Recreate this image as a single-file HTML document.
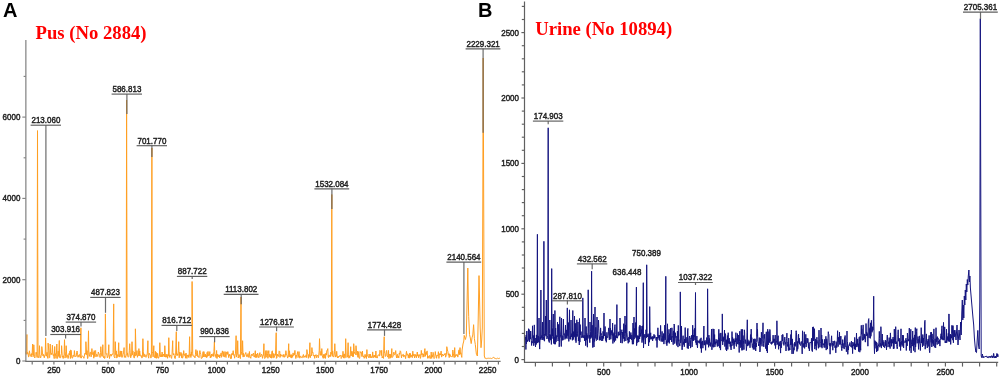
<!DOCTYPE html><html><head><meta charset="utf-8"><style>html,body{margin:0;padding:0;background:#fff;width:1000px;height:377px;overflow:hidden}svg{display:block;filter:blur(0.3px)}</style></head><body><svg width="1000" height="377" viewBox="0 0 1000 377"><rect width="1000" height="377" fill="#fff"/><polyline points="25.8,351.5 26.2,354.3 26.9,334.5 27.1,354.2 27.6,352.3 28.0,353.0 28.5,356.9 28.9,356.7 29.4,350.8 29.8,353.4 30.3,355.4 30.7,354.8 31.2,356.9 31.6,353.6 32.1,354.9 32.6,344.0 33.0,356.7 33.5,355.4 33.8,344.8 34.4,356.6 34.8,358.0 35.3,355.3 35.7,354.5 36.2,352.1 36.6,354.2 37.1,357.5 37.5,130.6 38.0,357.2 38.4,356.7 38.9,357.9 39.5,345.7 39.8,354.3 40.2,357.0 40.7,357.8 41.1,355.8 41.6,354.1 41.8,346.6 42.5,352.9 42.9,355.8 43.4,354.4 43.8,356.5 44.3,357.8 44.7,355.3 45.2,355.7 45.6,337.9 46.1,355.1 46.5,356.2 47.0,352.3 47.4,355.7 47.9,358.4 48.1,343.1 48.8,350.7 49.2,357.6 49.7,357.7 50.2,344.0 50.6,353.1 51.0,354.7 51.5,353.3 51.9,354.5 52.4,345.2 52.8,352.9 53.3,355.6 53.7,354.6 54.2,358.6 54.7,346.5 55.1,355.6 55.5,353.7 56.0,358.4 56.4,354.7 56.8,344.0 57.3,358.5 57.8,357.2 58.2,351.1 58.7,356.4 59.3,340.5 59.6,357.7 60.0,357.9 60.5,357.8 60.9,355.0 61.4,353.7 61.6,345.7 62.3,357.2 62.7,356.1 63.2,358.5 63.6,355.7 64.1,355.0 64.5,339.7 65.0,358.1 65.4,356.2 65.9,351.5 66.2,345.7 66.8,357.5 67.2,354.8 67.7,355.5 68.1,358.5 68.6,355.8 69.0,353.4 69.5,354.7 69.9,350.9 70.4,358.5 70.6,350.0 71.3,350.4 71.7,357.0 72.2,358.3 72.6,358.0 73.1,355.0 73.5,355.3 74.0,356.7 74.4,350.6 74.9,355.6 75.3,356.7 75.8,355.9 76.2,356.3 76.7,352.3 77.1,351.0 77.6,354.8 78.0,357.3 78.5,355.5 78.9,356.6 79.4,354.5 79.8,355.1 80.3,357.6 80.9,327.8 81.2,358.2 81.6,356.8 82.1,356.4 82.5,356.1 83.0,356.2 83.4,357.2 83.9,358.3 84.3,356.6 84.8,353.4 85.2,353.0 85.7,354.3 85.9,341.7 86.6,354.7 87.0,350.7 87.5,358.5 87.9,358.4 88.5,330.8 88.8,352.3 89.3,356.4 89.7,354.9 90.2,351.9 90.6,352.6 91.1,356.9 91.5,354.3 91.9,348.6 92.4,354.5 92.9,354.2 93.3,352.3 93.8,358.2 94.2,350.6 94.7,356.6 95.1,351.4 95.6,350.5 96.0,356.9 96.5,354.4 96.9,354.3 97.4,356.1 97.8,356.5 98.3,352.0 98.7,353.2 99.2,354.2 99.6,355.4 100.1,357.5 100.5,352.6 100.8,346.7 101.4,354.1 101.9,356.5 102.3,356.2 102.8,344.7 103.2,356.0 103.7,357.8 104.1,356.3 104.6,358.5 105.0,357.8 105.4,313.9 105.9,353.3 106.4,354.3 106.8,353.5 107.3,357.9 107.7,357.1 108.2,355.1 108.8,344.7 109.1,355.2 109.5,358.5 110.0,355.1 110.4,355.4 110.9,354.0 111.3,356.2 111.8,354.9 112.2,354.0 112.7,354.4 113.1,352.7 113.7,303.9 114.0,356.4 114.5,357.0 114.9,358.0 115.3,341.7 115.8,354.7 116.3,350.9 116.7,358.1 117.2,357.4 117.6,354.6 118.1,356.3 118.7,342.7 119.0,356.7 119.4,357.1 119.9,353.3 120.3,350.9 120.8,356.6 121.2,356.9 121.7,351.0 122.1,357.4 122.6,356.5 123.0,354.3 123.5,352.9 124.1,347.6 124.4,357.4 124.8,356.3 125.3,356.2 125.7,357.5 126.2,353.3 126.6,100.0 127.1,355.4 127.5,352.9 128.0,357.1 128.4,357.1 128.9,356.4 129.3,350.7 129.7,343.7 130.2,352.2 130.7,357.8 131.1,356.1 131.6,355.0 132.0,341.7 132.5,354.7 132.9,350.9 133.4,356.3 133.8,357.2 134.3,358.1 134.7,352.1 135.2,356.1 135.4,328.8 136.1,355.5 136.5,354.0 137.0,350.6 137.4,357.3 137.9,355.3 138.3,355.8 138.9,348.6 139.2,356.0 139.7,350.9 140.1,355.3 140.6,355.1 141.0,356.4 141.5,355.7 141.9,358.1 142.4,356.9 142.9,338.7 143.3,351.2 143.7,356.1 144.2,357.0 144.6,354.2 145.1,354.6 145.5,355.6 146.0,357.4 146.4,355.2 146.9,355.4 147.3,353.2 147.9,340.7 148.2,356.3 148.7,358.2 149.1,353.1 149.6,354.4 150.0,354.4 150.5,355.2 150.9,358.1 151.4,355.9 151.9,148.0 152.2,352.8 152.7,352.0 153.1,356.9 153.8,345.7 154.0,355.1 154.5,356.1 154.9,357.9 155.4,351.3 155.8,358.1 156.3,352.4 156.7,358.3 157.2,357.9 157.6,353.3 158.1,356.4 158.5,358.3 159.0,357.0 159.4,356.1 159.8,342.7 160.3,355.1 160.8,357.0 161.2,354.6 161.7,356.9 162.1,352.0 162.6,356.7 163.0,355.0 163.5,354.0 163.9,356.1 164.4,357.0 164.8,345.7 165.3,355.1 165.7,357.2 166.2,354.1 166.6,357.1 167.1,355.2 167.5,358.3 168.0,354.2 168.4,355.9 168.8,337.7 169.3,357.4 169.8,354.9 170.2,355.4 170.7,355.1 171.1,357.5 171.6,358.4 172.0,354.9 172.7,340.7 172.9,352.4 173.4,355.0 173.8,353.6 174.3,355.8 174.7,358.1 175.2,358.6 175.6,355.5 176.3,331.7 176.5,354.1 177.0,355.7 177.4,353.8 177.9,355.3 178.3,350.4 178.7,341.7 179.2,357.8 179.7,352.1 180.1,355.7 180.6,354.9 181.0,352.4 181.5,357.7 181.9,353.6 182.4,358.2 182.8,357.4 183.3,355.6 183.7,350.6 184.2,355.2 184.6,355.5 185.1,354.0 185.5,358.2 186.0,353.0 186.4,356.2 186.9,358.4 187.3,355.2 187.8,356.3 188.2,354.8 188.7,357.4 189.1,357.6 189.6,336.7 190.0,355.7 190.5,354.4 190.9,357.5 191.4,351.9 191.8,355.5 192.1,281.5 192.7,353.5 193.2,356.3 193.6,356.1 194.1,355.9 194.5,357.1 195.0,357.9 195.4,354.6 195.9,349.6 196.3,355.7 196.8,354.9 197.2,350.7 197.7,356.7 198.1,355.8 198.6,356.3 199.0,357.7 199.5,352.1 199.9,350.6 200.4,352.8 200.8,354.5 201.3,358.5 201.7,358.3 202.2,358.0 202.6,355.2 203.1,351.7 203.5,356.9 203.9,351.6 204.4,355.2 204.9,357.0 205.3,354.1 205.8,357.1 206.2,355.4 206.7,357.7 207.1,352.4 207.6,356.5 208.0,351.4 208.5,355.9 208.9,355.4 209.4,355.4 209.8,351.6 210.3,358.0 210.7,355.7 211.2,357.3 211.6,354.0 212.1,355.9 212.5,355.9 213.0,353.7 213.4,356.5 213.9,351.6 214.4,341.7 214.8,354.7 215.2,356.4 215.7,354.5 216.1,357.7 216.6,350.5 217.0,358.5 217.5,354.2 217.9,355.8 218.4,356.9 218.8,354.7 219.3,355.0 219.7,357.9 220.2,354.8 220.6,355.8 221.1,352.9 221.5,357.3 222.0,354.2 222.4,350.9 222.9,354.5 223.3,356.5 223.8,351.6 224.2,356.7 224.7,357.0 225.1,351.6 225.6,356.3 226.0,357.5 226.5,352.1 226.9,352.3 227.4,354.4 227.8,351.6 228.3,354.4 228.7,357.6 229.2,354.2 229.6,355.7 230.1,354.6 230.5,358.6 231.0,357.7 231.4,358.5 231.7,353.6 232.3,354.8 232.8,352.6 233.2,350.7 233.7,355.3 234.1,354.7 234.6,358.2 235.0,355.2 235.5,353.2 236.1,335.7 236.4,357.1 236.8,354.8 237.3,354.5 237.7,340.7 238.2,358.0 238.6,356.7 239.1,354.5 239.5,356.9 240.0,357.7 240.4,358.6 241.0,297.0 241.3,351.2 241.8,354.2 242.2,355.2 242.6,340.7 243.1,357.1 243.6,353.3 244.0,356.8 244.5,356.4 244.9,354.6 245.4,353.8 245.8,352.5 246.3,355.0 246.7,356.7 247.2,356.9 247.6,354.6 248.1,353.5 248.5,356.9 249.0,357.6 249.4,351.5 249.9,356.6 250.3,357.0 250.8,358.3 251.2,355.1 251.7,354.2 252.1,355.9 252.6,354.3 253.0,354.1 253.5,353.1 253.9,356.8 254.4,357.0 254.8,354.8 255.3,350.7 255.7,357.6 256.2,354.0 256.6,357.4 257.1,357.4 257.5,353.0 258.0,354.2 258.4,357.4 258.9,357.9 259.3,355.2 259.9,352.6 260.2,356.4 260.7,357.0 261.1,355.0 261.6,354.1 262.0,355.1 262.5,358.3 262.9,355.5 263.4,355.5 263.9,343.7 264.3,357.2 264.7,358.5 265.2,357.9 265.8,350.6 266.1,357.3 266.5,355.4 267.0,350.6 267.4,353.4 267.9,358.3 268.3,353.7 268.8,350.6 269.2,357.2 269.7,354.3 270.1,355.7 270.6,357.8 271.0,354.3 271.5,358.2 271.8,351.6 272.4,350.8 272.8,357.7 273.3,357.8 273.7,353.5 274.2,357.5 274.6,355.5 275.1,354.1 275.5,355.3 276.2,332.7 276.4,358.4 276.9,357.9 277.3,354.1 277.8,356.0 278.2,355.6 278.7,356.5 279.1,350.9 279.8,351.6 280.0,357.5 280.5,354.0 280.9,356.3 281.4,354.8 281.8,355.6 282.3,355.2 282.7,355.3 283.2,357.2 283.6,354.5 284.1,354.4 284.5,357.2 285.0,356.9 285.4,355.8 285.9,350.7 286.3,354.1 286.8,355.2 287.2,356.3 287.7,358.1 288.1,356.1 288.7,343.7 289.0,357.0 289.5,350.8 289.9,357.0 290.4,354.8 290.8,357.6 291.3,354.6 291.7,358.1 292.2,354.9 292.6,357.2 293.1,352.9 293.5,355.5 294.0,354.7 294.4,354.9 294.9,350.4 295.3,354.5 295.8,358.5 296.2,357.4 296.7,354.9 297.1,354.5 297.7,351.6 298.0,357.6 298.5,356.3 299.0,351.6 299.4,355.9 299.8,358.2 300.3,356.6 300.7,355.9 301.2,357.3 301.6,357.6 302.1,357.9 302.5,357.0 303.0,355.4 303.4,354.5 303.9,357.6 304.3,356.9 304.8,355.9 305.2,356.9 305.7,357.1 306.1,354.8 306.6,357.6 306.9,349.6 307.5,354.2 307.9,354.7 308.4,358.3 308.8,354.5 309.3,356.5 309.9,342.7 310.2,357.8 310.6,355.9 311.1,355.0 311.5,355.8 311.9,347.6 312.4,352.8 312.9,352.3 313.3,355.9 313.8,355.6 314.2,355.0 314.7,358.3 315.1,355.0 315.6,355.8 316.0,354.6 316.5,357.7 316.9,356.2 317.4,355.0 317.8,355.6 318.3,357.8 318.7,356.2 319.2,350.9 319.5,338.7 320.1,355.2 320.5,355.2 321.0,351.3 321.4,355.3 321.8,348.6 322.3,356.0 322.8,357.0 323.2,358.3 323.7,354.3 324.1,358.2 324.6,354.6 325.0,353.8 325.5,358.4 325.9,353.3 326.4,355.1 326.8,350.6 327.3,350.7 327.8,348.6 328.2,357.1 328.6,357.6 329.1,354.9 329.5,356.4 330.0,356.0 330.4,356.6 330.9,352.1 331.3,354.3 331.8,194.5 332.2,356.3 332.7,350.9 333.1,356.2 333.6,357.1 334.0,355.7 334.5,351.6 334.8,343.7 335.4,357.1 335.8,355.5 336.3,356.3 336.7,351.3 337.2,356.9 337.6,358.0 338.1,356.2 338.5,357.5 339.0,356.0 339.4,356.5 339.9,355.3 340.3,355.9 340.8,355.2 341.2,358.5 341.7,357.6 342.1,355.5 342.6,356.7 343.0,351.3 343.5,358.1 343.9,354.2 344.4,354.0 344.8,358.2 345.3,357.0 345.7,338.7 346.2,356.8 346.6,357.2 347.1,357.1 347.5,357.1 348.1,342.7 348.4,354.2 348.9,358.2 349.3,355.7 349.8,357.6 350.2,355.2 350.7,346.7 351.1,356.0 351.6,351.8 352.0,351.0 352.5,356.6 352.9,352.4 353.4,356.7 353.7,343.7 354.3,351.5 354.7,353.7 355.2,354.0 355.6,354.6 356.0,345.7 356.5,351.3 357.0,355.1 357.4,351.1 357.9,357.3 358.3,351.6 358.8,357.3 359.2,358.3 359.7,358.4 360.1,351.5 360.6,352.7 361.0,352.6 361.5,352.5 361.9,356.6 362.4,351.0 362.8,355.7 363.3,356.9 363.7,355.8 364.2,358.3 364.6,356.6 365.1,354.3 365.5,357.2 366.0,355.5 366.4,358.5 366.9,349.6 367.3,356.0 367.8,355.7 368.2,356.8 368.7,357.7 369.1,354.0 369.6,355.9 370.0,357.8 370.5,354.2 370.9,357.7 371.4,356.6 371.8,357.9 372.3,357.1 372.7,351.9 373.2,357.7 373.6,357.5 374.1,355.1 374.5,357.1 375.0,355.0 375.4,357.5 375.9,351.0 376.3,357.6 376.8,356.7 377.2,358.1 377.7,356.2 378.1,354.9 378.6,354.8 379.0,355.7 379.5,355.9 379.9,350.3 380.4,351.6 380.8,351.7 381.3,355.6 381.7,350.3 382.2,358.0 382.6,356.6 383.1,357.6 383.5,358.4 384.2,336.7 384.4,353.1 384.9,353.6 385.3,356.6 385.8,356.1 386.2,351.7 386.7,350.4 387.1,355.2 387.6,356.9 388.0,357.1 388.5,350.4 388.9,358.6 389.4,354.2 389.8,355.6 390.3,358.2 390.7,354.2 391.2,357.3 391.8,348.6 392.1,357.5 392.5,357.1 393.0,356.7 393.4,354.5 393.9,352.1 394.3,354.8 394.8,354.7 395.2,354.1 395.7,350.6 396.1,355.0 396.6,358.0 397.0,354.6 397.5,354.4 397.9,357.9 398.4,356.1 398.8,357.8 399.3,353.0 399.7,354.3 400.2,350.8 400.7,351.6 401.1,354.7 401.5,357.9 402.0,354.8 402.4,355.5 402.9,354.5 403.3,354.3 403.8,357.1 404.2,356.2 404.7,355.2 405.1,355.7 405.6,358.6 406.0,354.4 406.5,351.3 406.9,355.4 407.4,354.1 407.8,353.8 408.3,357.8 408.7,354.9 409.2,358.2 409.6,353.2 410.1,357.5 410.5,353.5 411.0,356.8 411.4,355.3 411.9,356.8 412.3,357.7 412.8,351.2 413.2,355.9 413.7,354.3 414.1,355.5 414.6,358.0 415.0,354.1 415.5,356.2 415.9,355.2 416.4,357.8 416.8,354.8 417.3,352.0 417.7,356.1 418.2,354.6 418.6,357.8 419.1,355.5 419.5,355.8 420.0,354.3 420.4,358.4 420.9,356.4 421.3,350.4 421.8,355.0 422.2,354.5 422.7,353.5 423.1,357.2 423.6,354.1 424.0,356.7 424.5,350.8 424.9,348.6 425.4,356.3 425.8,352.4 426.3,354.6 426.7,351.8 427.2,350.9 427.6,358.3 428.1,355.9 428.5,356.4 429.0,358.3 429.4,355.6 429.9,355.5 430.3,358.5 430.8,358.2 431.2,352.0 431.7,358.4 432.1,355.1 432.6,356.9 433.0,352.3 433.5,353.3 433.9,358.5 434.4,358.3 434.8,357.7 435.3,351.6 435.7,355.2 436.2,355.3 436.6,358.3 437.1,355.2 437.5,356.0 438.0,355.3 438.4,351.7 438.9,358.4 439.3,355.2 439.8,353.4 440.2,353.8 440.7,355.1 441.1,351.1 441.6,357.1 442.0,355.8 442.5,354.1 442.9,355.3 443.4,356.0 443.8,354.6 444.3,354.2 444.7,355.0 445.2,353.3 445.6,357.2 446.1,355.8 446.5,354.5 446.8,346.7 447.4,350.0 447.9,351.6 448.3,355.2 448.8,353.7 449.2,357.6 449.7,353.9 450.1,354.8 450.6,356.0 451.0,357.0 451.5,356.6 451.9,356.7 452.4,356.8 452.8,350.0 453.3,353.2 453.7,355.9 454.2,357.6 454.7,347.6 455.1,357.2 455.5,354.9 456.0,355.3 456.4,354.5 456.9,355.8 457.3,354.7 457.8,357.1 458.2,355.2 458.7,351.0 459.1,349.8 459.6,354.7 460.0,347.6 460.5,354.1 460.9,352.8 461.4,355.8 461.8,357.4 462.1,350.0 463.0,344.0 463.8,341.0 464.2,335.4 465.4,339.5 466.3,336.0 467.1,300.0 467.8,268.0 468.3,300.0 468.7,316.4 469.5,334.5 470.3,338.0 471.2,343.6 472.0,337.8 472.8,335.0 473.6,324.7 474.4,338.7 475.3,344.4 476.4,354.3 477.4,356.0 478.2,320.0 479.0,275.6 479.6,300.0 480.2,328.0 481.0,347.7 481.7,340.0 482.3,328.0 482.8,200.0 483.2,58.0 483.7,200.0 484.3,356.0 485.1,358.5 485.6,358.3 486.2,358.8 486.8,358.3 487.4,358.3 488.0,358.5 488.6,358.2 489.2,358.2 489.8,358.4 490.4,358.2 491.0,358.7 491.6,358.5 492.2,358.3 492.8,357.9 493.4,357.3 494.0,357.3 494.6,358.4 495.2,358.4 495.8,358.7 496.4,358.8 497.0,358.3 497.6,358.2 498.2,358.4 498.8,358.8 499.4,358.1 500.0,358.3" fill="none" stroke="#FF9F22" stroke-width="1" stroke-linejoin="miter" stroke-miterlimit="20"/><polyline points="525.3,339.9 525.6,336.9 525.9,349.5 526.2,335.0 526.5,344.0 526.8,331.0 527.1,340.7 527.4,341.6 527.7,339.9 528.0,341.2 528.3,331.7 528.6,328.7 528.9,339.8 529.2,329.6 529.5,341.8 529.8,334.8 530.1,334.2 530.4,339.1 530.7,331.0 531.0,336.4 531.3,340.6 531.6,345.5 531.9,341.2 532.2,343.1 532.5,325.8 532.8,337.7 533.1,338.2 533.4,335.5 533.7,345.7 534.0,343.8 534.3,324.9 534.6,340.2 534.9,343.0 535.2,338.0 535.5,347.0 535.8,341.4 536.1,344.6 536.4,334.9 536.7,343.3 537.0,337.9 537.4,234.3 537.6,342.9 537.9,342.1 538.2,335.9 538.5,340.7 538.8,342.2 539.0,318.0 539.4,343.7 539.7,349.1 540.0,339.8 540.3,337.1 540.6,339.5 540.9,290.0 541.2,338.2 541.5,336.5 541.8,335.4 542.1,339.9 542.5,322.0 542.7,338.9 543.0,340.0 543.3,339.5 543.6,336.3 543.9,241.3 544.2,341.1 544.5,341.1 544.8,334.0 545.1,335.0 545.5,316.0 545.7,334.1 546.0,336.2 546.3,300.0 546.6,332.9 546.9,339.0 547.2,338.2 547.5,336.0 547.8,335.4 548.2,127.8 548.4,337.0 548.7,341.2 549.0,341.3 549.3,342.5 549.6,333.4 549.8,320.0 550.2,339.3 550.5,334.7 550.8,340.2 551.1,337.1 551.4,344.4 551.7,268.6 552.0,338.7 552.3,328.7 552.6,335.9 552.9,327.5 553.3,314.0 553.5,340.1 553.8,343.6 554.1,336.9 554.4,341.1 554.7,344.2 554.9,310.5 555.3,344.2 555.6,328.0 555.9,342.2 556.2,341.3 556.5,337.0 556.8,335.4 557.1,336.9 557.5,322.0 557.7,329.2 558.0,341.0 558.3,339.6 558.6,324.4 558.9,332.9 559.2,346.8 559.5,342.7 559.8,316.8 560.1,329.0 560.4,334.1 560.7,337.0 561.0,338.3 561.3,346.5 561.5,318.0 561.9,337.2 562.2,339.8 562.5,340.3 562.8,335.6 563.1,340.1 563.4,319.0 563.7,330.9 564.0,335.1 564.3,333.6 564.6,334.5 564.9,339.4 565.2,339.1 565.5,325.0 565.8,338.1 566.1,335.2 566.4,337.6 566.7,329.9 567.0,338.7 567.3,307.9 567.6,335.4 567.9,335.3 568.2,336.3 568.5,322.6 568.8,341.4 569.1,330.8 569.5,309.8 569.7,323.8 570.0,339.1 570.3,336.3 570.6,339.3 571.0,320.0 571.2,336.0 571.5,336.8 571.8,333.6 572.1,335.4 572.4,340.3 572.8,310.5 573.0,334.5 573.3,339.5 573.6,331.6 573.9,332.5 574.2,337.2 574.5,316.0 574.8,336.2 575.1,329.7 575.4,340.5 575.7,323.3 576.0,342.7 576.3,337.9 576.6,333.1 576.8,319.8 577.2,336.6 577.5,333.4 577.8,330.9 578.0,322.0 578.4,340.9 578.7,337.5 579.0,338.5 579.3,345.0 579.5,318.5 579.9,342.1 580.2,324.6 580.5,334.5 580.8,335.0 581.1,331.6 581.4,337.7 581.7,337.7 582.0,336.4 582.3,335.5 582.6,337.5 582.8,297.9 583.2,335.1 583.5,335.5 583.8,338.1 584.1,335.2 584.4,336.4 584.7,340.9 585.0,318.0 585.3,334.4 585.6,345.6 585.9,335.7 586.2,326.5 586.5,340.1 586.8,333.4 587.1,345.0 587.4,347.2 587.7,335.2 588.0,338.5 588.2,289.8 588.6,328.1 588.9,336.5 589.2,337.5 589.5,335.2 589.8,342.7 590.0,322.0 590.4,331.7 590.7,338.6 591.0,335.3 591.3,337.5 591.6,271.2 591.9,336.3 592.2,325.2 592.5,340.9 592.8,347.6 593.1,335.7 593.5,314.0 593.7,343.1 594.0,347.0 594.3,338.9 594.6,341.4 595.0,307.0 595.2,338.4 595.5,334.4 595.8,327.3 596.1,339.6 596.4,340.6 596.7,339.4 597.0,317.0 597.3,333.6 597.6,339.7 597.9,330.9 598.2,327.4 598.5,320.0 598.8,328.6 599.1,334.3 599.4,340.3 599.7,336.7 600.0,337.3 600.3,340.2 600.6,327.9 600.9,334.6 601.2,333.4 601.5,335.7 601.8,341.0 602.1,337.1 602.4,336.0 602.7,340.7 603.0,331.4 603.3,334.1 603.6,338.5 604.0,313.0 604.2,334.0 604.5,335.9 604.8,331.7 605.1,326.5 605.4,335.0 605.7,340.6 606.0,335.9 606.3,342.3 606.6,339.8 606.9,332.3 607.2,337.5 607.5,337.0 607.8,337.5 608.1,335.6 608.4,331.6 608.7,327.9 609.0,334.0 609.3,339.9 609.6,336.1 610.0,319.0 610.2,335.4 610.5,328.1 610.8,339.3 611.1,335.7 611.4,333.9 611.7,330.4 612.0,331.9 612.3,335.5 612.6,323.0 612.9,343.5 613.2,334.1 613.5,340.4 613.8,332.7 614.1,333.6 614.4,342.2 614.7,326.3 615.0,324.6 615.3,334.4 615.6,340.5 615.9,336.0 616.2,336.8 616.5,337.9 616.9,304.6 617.1,335.9 617.4,338.2 617.7,336.9 618.0,335.1 618.3,331.8 618.6,335.5 618.9,334.0 619.2,334.7 619.5,335.2 619.8,330.5 620.0,318.0 620.4,328.8 620.7,342.9 621.0,335.5 621.3,333.2 621.6,331.4 621.9,329.7 622.2,343.2 622.5,332.1 622.8,336.9 623.1,335.5 623.4,338.6 623.7,323.7 624.0,335.9 624.3,341.4 624.6,336.5 625.0,316.0 625.2,333.0 625.5,324.9 625.8,340.9 626.1,337.9 626.4,336.0 626.8,282.7 627.0,332.6 627.3,337.1 627.6,340.1 627.9,339.0 628.2,343.3 628.5,339.8 628.8,337.1 629.1,342.2 629.4,331.4 629.7,338.6 630.0,334.4 630.3,339.0 630.6,335.8 630.9,332.5 631.2,338.7 631.5,339.9 631.8,334.9 632.1,340.4 632.4,344.2 632.7,339.1 633.0,323.0 633.3,344.2 633.6,342.4 634.0,317.0 634.2,339.2 634.5,328.5 634.8,330.2 635.1,337.0 635.4,336.4 635.7,322.5 636.0,338.2 636.4,287.1 636.6,345.6 636.9,340.0 637.2,342.7 637.5,335.6 637.8,337.5 638.1,340.6 638.4,335.8 638.7,342.1 639.0,333.4 639.3,326.5 639.6,339.0 639.9,325.1 640.2,336.4 640.5,333.0 640.8,336.3 641.0,326.0 641.4,333.4 641.7,329.7 642.0,342.6 642.3,335.9 642.6,325.8 642.9,340.3 643.3,282.7 643.5,348.0 643.8,340.3 644.1,338.8 644.4,337.1 644.7,334.9 645.0,334.0 645.3,344.1 645.6,337.9 645.9,329.8 646.2,331.1 646.5,337.7 646.7,264.8 647.1,332.7 647.4,337.0 647.7,334.6 648.0,334.5 648.3,337.2 648.6,345.9 648.9,333.7 649.2,337.4 649.5,342.2 649.7,306.6 650.1,339.1 650.4,335.4 650.7,332.8 651.0,339.4 651.3,338.8 651.6,337.2 651.9,338.9 652.2,336.3 652.5,340.9 652.8,340.3 653.1,336.6 653.4,338.6 653.7,336.7 654.0,334.3 654.3,338.3 654.6,336.0 654.9,335.4 655.2,337.8 655.5,337.7 655.8,338.7 656.1,340.5 656.4,339.1 656.7,337.0 657.0,347.5 657.3,339.9 657.6,336.3 657.9,327.8 658.2,335.9 658.5,337.6 658.8,335.3 659.1,339.7 659.4,335.1 659.7,340.6 660.0,337.3 660.3,334.5 660.6,325.4 660.9,335.1 661.2,341.6 661.5,338.5 661.8,337.6 662.1,331.4 662.4,340.2 662.7,341.7 663.0,335.9 663.3,341.1 663.6,333.5 663.9,344.1 664.2,340.0 664.5,338.8 664.8,325.1 665.1,339.9 665.4,339.6 665.8,276.3 666.0,340.6 666.3,344.1 666.6,340.6 666.9,345.7 667.2,338.6 667.5,323.8 667.8,342.7 668.1,338.5 668.4,342.0 668.7,334.5 669.0,329.3 669.3,343.4 669.6,333.7 669.9,339.2 670.2,340.0 670.6,328.0 670.8,339.8 671.1,339.7 671.4,336.4 671.7,342.0 671.9,327.8 672.3,335.8 672.6,337.6 672.9,337.4 673.2,344.7 673.5,330.9 673.8,341.5 674.1,324.0 674.4,325.1 674.7,343.6 675.0,341.2 675.3,332.7 675.6,336.5 675.9,337.6 676.2,336.2 676.5,344.2 676.8,345.5 677.1,341.1 677.4,331.1 677.7,338.7 678.0,347.1 678.3,325.4 678.6,341.2 678.9,339.7 679.2,344.2 679.5,343.9 679.8,346.1 680.1,343.1 680.3,291.9 680.7,342.9 681.0,340.0 681.3,337.6 681.5,326.0 681.9,349.4 682.2,349.9 682.5,347.3 682.8,339.1 683.1,335.7 683.4,344.5 683.7,343.0 684.0,341.8 684.3,346.7 684.6,339.0 684.9,340.9 685.2,327.6 685.5,342.8 685.8,338.7 686.1,342.7 686.4,340.5 686.7,339.4 687.0,337.1 687.3,348.2 687.5,331.0 687.9,328.4 688.2,348.8 688.5,342.9 688.8,343.2 689.1,338.4 689.4,337.6 689.7,336.0 690.0,346.0 690.3,340.6 690.6,348.1 690.9,337.8 691.2,339.2 691.5,335.3 691.8,338.7 692.1,346.9 692.4,341.2 692.7,325.2 693.0,339.6 693.3,341.0 693.6,335.0 693.9,339.8 694.2,329.6 694.5,336.6 694.8,328.2 695.1,340.3 695.5,292.5 695.7,342.5 696.0,340.9 696.3,344.9 696.6,341.2 696.9,336.1 697.2,345.7 697.5,347.9 697.8,340.5 698.1,342.3 698.4,341.4 698.7,342.0 699.0,342.8 699.3,340.6 699.6,343.3 699.9,341.1 700.2,338.8 700.5,348.3 700.8,339.5 701.1,337.8 701.4,352.6 701.7,341.7 702.0,344.8 702.3,342.9 702.6,341.0 702.9,348.2 703.2,339.5 703.5,339.6 703.9,326.0 704.1,345.2 704.4,340.7 704.7,344.8 705.0,342.4 705.3,342.9 705.6,350.3 705.9,340.3 706.2,343.7 706.5,340.6 706.8,337.5 707.1,344.6 707.4,337.5 707.6,288.8 708.0,343.9 708.3,340.3 708.6,347.3 708.9,335.1 709.2,343.1 709.5,338.5 709.8,345.5 710.1,343.8 710.4,346.5 710.7,342.6 711.0,344.6 711.3,337.8 711.5,329.0 711.9,349.8 712.2,344.8 712.5,346.5 712.8,342.1 713.0,328.8 713.4,337.9 713.7,347.3 713.9,329.0 714.3,344.1 714.6,334.6 714.9,346.9 715.2,341.6 715.5,341.9 715.8,344.4 716.1,339.3 716.4,342.7 716.7,342.2 717.0,341.7 717.3,346.5 717.6,342.1 717.9,339.7 718.2,346.2 718.5,339.4 718.8,329.3 719.1,341.0 719.4,338.6 719.7,347.8 720.0,333.4 720.3,349.1 720.6,350.1 720.9,332.9 721.2,340.4 721.5,341.1 721.8,340.6 722.1,339.2 722.3,313.9 722.7,344.9 723.0,337.6 723.3,341.5 723.6,337.4 723.9,336.7 724.2,339.8 724.5,330.0 724.8,346.5 725.1,342.8 725.4,333.6 725.7,335.6 726.0,349.7 726.3,339.7 726.6,351.0 726.9,341.3 727.2,343.7 727.5,335.6 727.8,349.4 728.2,332.7 728.4,340.7 728.7,343.6 729.0,339.7 729.3,338.2 729.6,343.9 729.9,342.4 730.2,346.6 730.5,341.7 730.8,348.2 731.1,349.9 731.4,344.8 731.7,345.8 732.0,331.6 732.3,343.1 732.6,337.3 732.9,345.5 733.2,345.1 733.5,339.1 733.8,338.7 734.1,348.8 734.4,340.7 734.7,344.2 735.0,339.7 735.3,338.5 735.6,342.1 735.9,332.7 736.2,345.6 736.5,346.4 736.8,338.5 737.1,340.3 737.5,333.6 737.7,344.1 738.0,341.2 738.3,335.0 738.6,343.0 738.9,345.4 739.2,352.5 739.5,341.5 739.8,331.2 740.1,344.4 740.4,340.3 740.7,347.7 741.0,346.2 741.3,329.3 741.6,347.5 741.9,350.4 742.2,332.4 742.5,329.4 742.8,350.1 743.0,335.5 743.4,340.5 743.7,344.4 744.0,349.6 744.3,329.8 744.6,332.0 744.9,341.8 745.2,343.6 745.5,339.7 745.8,341.0 746.1,344.1 746.4,350.6 746.7,346.3 747.0,332.2 747.3,319.8 747.6,346.1 747.9,339.7 748.2,344.0 748.5,342.5 748.8,345.4 749.1,340.7 749.4,343.9 749.7,342.5 750.0,347.8 750.3,342.9 750.5,334.6 750.9,342.7 751.2,329.1 751.5,342.1 751.8,337.7 752.1,345.8 752.4,347.6 752.7,345.3 753.0,343.6 753.3,349.5 753.6,339.1 753.9,343.7 754.2,338.8 754.5,344.2 754.8,349.5 755.1,338.8 755.4,341.2 755.7,351.0 756.0,344.1 756.3,347.0 756.6,342.5 757.0,323.0 757.2,336.3 757.5,329.4 757.8,341.1 758.1,341.9 758.4,343.3 758.7,346.0 759.0,344.4 759.3,337.6 759.6,343.5 759.9,352.0 760.2,350.0 760.5,338.1 760.8,344.4 761.1,341.7 761.4,332.2 761.7,338.4 762.0,346.3 762.3,339.6 762.6,338.3 763.0,322.8 763.2,340.2 763.5,343.5 763.8,346.8 764.1,335.2 764.4,338.3 764.7,334.1 765.0,342.0 765.3,344.1 765.6,348.6 765.9,345.6 766.3,331.8 766.5,351.0 766.8,349.2 767.1,343.8 767.4,352.9 767.7,329.2 768.0,337.6 768.3,344.9 768.6,339.0 768.9,331.6 769.2,341.5 769.5,342.6 769.8,329.4 770.0,330.0 770.4,339.1 770.7,341.3 771.0,343.8 771.3,342.0 771.6,344.4 771.9,344.0 772.2,341.6 772.5,343.2 772.8,340.9 773.1,335.1 773.4,342.6 773.7,339.3 774.0,340.3 774.3,338.8 774.6,339.5 774.9,345.4 775.2,335.0 775.5,348.6 775.8,344.1 776.1,344.7 776.4,341.3 776.7,342.2 776.9,320.8 777.3,342.2 777.6,344.5 777.9,338.0 778.2,335.7 778.5,349.3 778.8,342.8 779.1,342.3 779.4,343.4 779.7,346.0 780.0,341.4 780.3,348.2 780.6,353.1 780.9,340.9 781.2,347.9 781.5,345.2 781.8,342.5 782.1,335.0 782.4,340.9 782.7,334.3 783.0,335.0 783.3,343.5 783.6,342.7 783.9,345.4 784.2,342.8 784.5,340.7 784.8,337.1 785.1,343.0 785.4,343.9 785.7,342.4 786.0,351.0 786.3,340.1 786.6,338.7 786.9,333.1 787.2,343.6 787.5,346.4 787.8,345.9 788.1,342.0 788.4,350.5 788.7,338.1 789.0,346.1 789.3,350.3 789.6,347.9 789.9,350.0 790.2,344.4 790.5,344.8 790.8,334.5 791.1,344.8 791.4,330.0 791.7,341.7 792.0,353.9 792.3,338.9 792.6,346.7 792.9,343.6 793.2,353.8 793.5,352.9 793.8,347.6 794.1,350.2 794.4,346.4 794.7,342.2 795.0,346.6 795.3,343.9 795.6,345.5 796.0,330.9 796.2,330.7 796.5,332.5 796.8,351.3 797.1,351.4 797.4,341.4 797.7,349.3 798.0,347.1 798.3,335.0 798.6,334.2 798.9,342.8 799.2,338.1 799.5,344.2 799.8,341.6 800.1,343.1 800.4,345.3 800.7,345.6 801.0,344.5 801.3,342.8 801.6,341.5 801.9,344.6 802.2,353.9 802.5,330.8 802.8,343.3 803.1,347.2 803.4,343.7 803.7,343.4 804.0,347.4 804.3,331.8 804.6,348.4 804.9,345.3 805.2,340.2 805.5,343.7 805.8,334.3 806.1,347.0 806.4,343.9 806.7,343.0 807.0,338.0 807.3,342.7 807.6,342.5 807.9,338.5 808.2,343.7 808.5,348.3 808.8,342.7 809.1,347.5 809.4,351.0 809.7,346.2 810.0,342.2 810.3,342.6 810.6,342.3 810.9,343.0 811.2,342.9 811.5,338.3 811.8,350.2 812.1,350.0 812.4,351.6 812.7,327.1 813.0,339.1 813.3,326.8 813.6,340.9 813.9,339.0 814.2,336.6 814.5,328.7 814.8,349.1 815.1,342.2 815.4,346.0 815.7,338.9 816.0,345.2 816.3,350.2 816.6,339.3 816.9,337.2 817.2,339.5 817.5,343.5 817.8,344.4 818.1,345.4 818.4,348.3 818.7,339.9 819.0,330.1 819.3,340.0 819.6,340.0 819.9,347.3 820.2,343.3 820.5,341.6 820.8,341.1 821.0,328.0 821.4,347.0 821.7,335.0 822.0,348.2 822.3,342.7 822.6,339.4 822.9,344.9 823.2,344.9 823.5,345.0 823.8,343.5 824.1,347.4 824.4,345.4 824.7,339.3 825.0,347.7 825.3,342.3 825.6,343.1 825.9,336.3 826.2,350.1 826.5,339.6 826.8,338.8 827.1,345.1 827.4,349.1 827.7,345.2 828.0,338.4 828.3,331.7 828.5,333.6 828.9,334.6 829.2,344.4 829.5,345.7 829.8,343.1 830.1,354.2 830.4,343.4 830.7,345.5 831.0,346.3 831.3,339.7 831.6,335.8 831.9,344.4 832.2,344.9 832.5,343.0 832.8,350.2 833.1,341.0 833.4,343.6 833.7,345.6 834.0,344.2 834.3,342.9 834.6,340.8 834.9,347.7 835.2,346.3 835.5,345.7 835.8,352.8 836.1,341.6 836.4,342.7 836.7,347.7 837.0,346.9 837.3,339.3 837.6,330.7 837.9,344.1 838.2,346.6 838.5,337.3 838.8,338.1 839.1,342.0 839.5,332.0 839.7,344.5 840.0,336.4 840.3,344.4 840.6,340.4 840.9,336.1 841.2,345.3 841.5,348.6 841.8,350.7 842.1,344.1 842.4,345.3 842.7,339.6 843.0,348.1 843.3,344.6 843.6,344.4 843.9,343.4 844.2,349.1 844.5,337.6 844.8,344.4 845.1,335.5 845.4,346.4 845.7,346.8 846.0,346.1 846.3,351.5 846.6,351.8 847.0,331.0 847.2,341.3 847.5,342.0 847.8,354.3 848.1,346.5 848.4,350.0 848.7,345.6 849.0,344.5 849.3,344.6 849.6,345.6 849.9,342.5 850.2,345.2 850.5,345.7 850.8,345.5 851.1,347.0 851.4,341.1 851.7,342.5 852.0,347.6 852.3,345.2 852.6,353.6 852.9,342.0 853.2,345.9 853.5,345.7 853.8,343.4 854.1,346.4 854.4,349.1 854.7,337.4 855.0,347.0 855.3,349.9 855.6,343.9 855.9,346.7 856.2,342.5 856.5,333.0 856.8,347.1 857.1,342.2 857.4,344.8 857.7,338.9 858.0,346.4 858.3,343.8 858.6,351.5 858.9,342.6 859.2,337.2 859.5,341.4 859.8,352.2 860.1,336.3 860.4,345.8 860.7,350.3 861.0,333.1 861.3,325.3 861.6,334.2 861.8,328.8 862.2,339.7 862.5,340.4 862.8,336.5 863.1,324.9 863.4,340.1 863.7,339.2 864.0,338.4 864.3,333.9 864.6,338.4 864.9,335.3 865.2,342.1 865.5,342.0 865.8,333.2 866.0,323.5 866.4,335.7 866.7,332.0 867.0,335.6 867.3,334.7 867.6,333.6 867.9,346.2 868.2,323.8 868.5,319.5 868.8,318.6 869.1,337.9 869.4,328.8 869.7,334.4 870.0,327.7 870.3,338.4 870.7,322.8 870.9,336.3 871.2,332.8 871.4,320.3 871.8,331.1 872.1,332.3 872.4,331.3 872.7,326.7 873.0,330.3 873.3,326.6 873.7,296.2 873.9,321.3 874.2,344.8 874.5,353.7 874.8,340.5 875.1,344.0 875.4,345.2 875.7,341.4 876.0,348.4 876.3,342.0 876.6,352.0 876.9,342.8 877.2,351.1 877.5,345.8 877.8,350.6 878.1,348.1 878.4,344.6 878.7,346.0 879.0,340.0 879.3,331.4 879.6,338.6 879.9,347.2 880.2,343.2 880.5,345.1 880.8,345.8 880.9,326.7 881.4,348.1 881.7,344.6 882.0,345.8 882.3,334.0 882.6,344.8 882.9,340.1 883.2,342.4 883.5,346.8 883.8,341.8 884.1,344.1 884.4,347.3 884.7,347.8 885.0,345.1 885.3,340.1 885.6,345.7 885.9,340.8 886.2,343.9 886.5,349.9 886.8,342.8 887.1,336.6 887.3,335.0 887.7,341.1 888.0,347.1 888.3,344.5 888.6,341.8 888.9,343.8 889.2,337.6 889.5,347.0 889.8,340.9 890.1,348.6 890.4,332.9 890.7,338.1 891.0,343.1 891.3,339.8 891.6,346.3 891.9,339.1 892.2,343.0 892.5,343.2 892.8,339.6 893.1,337.0 893.4,348.9 893.7,339.0 894.0,348.6 894.3,329.1 894.6,342.8 894.9,342.7 895.2,343.8 895.5,340.9 895.7,326.7 896.1,344.0 896.4,341.7 896.7,344.7 897.0,348.4 897.3,348.9 897.6,346.8 897.9,334.5 898.2,329.8 898.5,341.2 898.8,341.1 899.1,338.1 899.4,338.9 899.7,346.5 900.0,342.0 900.3,343.6 900.6,350.5 901.0,328.8 901.2,344.6 901.5,342.4 901.8,341.2 902.1,346.5 902.4,343.4 902.7,335.0 903.0,344.9 903.3,335.3 903.6,348.0 903.9,340.5 904.2,341.7 904.5,342.4 904.8,342.2 905.1,342.1 905.4,342.5 905.7,340.1 906.0,338.2 906.3,350.5 906.6,340.1 906.9,341.0 907.2,345.9 907.4,333.0 907.8,336.0 908.1,341.2 908.4,339.4 908.7,340.8 909.0,341.1 909.3,328.1 909.6,350.5 909.9,346.3 910.2,347.7 910.5,339.1 910.8,329.3 911.1,352.9 911.4,344.3 911.7,342.1 912.0,339.6 912.3,346.1 912.7,331.0 912.9,340.8 913.2,340.0 913.5,350.5 913.8,337.8 914.1,344.8 914.4,336.5 914.7,334.9 915.0,352.2 915.3,327.6 915.6,347.0 915.9,342.4 916.2,340.5 916.5,331.7 916.8,328.7 917.1,343.3 917.4,341.9 917.7,341.3 918.0,336.5 918.3,343.3 918.6,349.4 918.9,339.1 919.2,342.5 919.5,335.9 919.8,343.6 920.1,344.0 920.4,350.5 920.7,343.2 921.0,337.2 921.2,327.7 921.6,343.1 921.9,339.9 922.2,336.8 922.5,346.8 922.8,334.5 923.1,340.6 923.4,338.1 923.7,345.3 924.0,345.8 924.3,339.2 924.7,321.3 925.0,320.3 925.2,349.2 925.5,344.6 925.8,342.3 926.1,338.9 926.4,333.9 926.7,344.7 927.0,344.7 927.3,348.0 927.6,340.7 927.9,339.3 928.2,339.0 928.5,339.2 928.8,346.5 929.1,335.4 929.4,350.5 929.7,352.7 930.0,346.8 930.3,339.0 930.6,334.5 930.9,332.1 931.2,342.3 931.5,332.2 931.8,347.0 932.1,333.9 932.4,338.7 932.7,343.4 933.0,341.0 933.3,345.8 933.6,339.4 933.9,328.9 934.2,345.8 934.5,347.3 934.8,346.5 935.1,338.8 935.4,346.7 935.7,347.8 936.0,327.7 936.3,341.8 936.6,337.7 936.9,342.4 937.2,344.6 937.5,336.7 937.8,338.9 938.1,338.2 938.4,340.3 938.7,343.8 939.0,342.6 939.3,342.6 939.6,339.7 939.9,346.1 940.2,340.4 940.5,338.3 940.8,335.3 941.1,333.7 941.4,339.3 941.7,328.3 942.0,325.8 942.3,335.1 942.6,339.5 942.9,338.1 943.2,340.2 943.5,322.4 943.8,334.8 944.1,339.9 944.4,338.5 944.7,326.9 945.0,342.4 945.3,343.0 945.6,341.8 945.9,340.8 946.2,342.9 946.5,329.2 946.8,342.5 947.1,338.5 947.4,339.5 947.7,336.5 948.0,340.6 948.3,333.3 948.6,341.4 948.8,314.0 949.1,314.0 949.5,341.6 949.8,340.6 950.1,335.9 950.4,334.1 950.7,344.4 951.0,335.2 951.3,336.0 951.6,338.2 951.9,325.3 952.2,333.1 952.5,326.3 952.8,340.2 953.0,325.6 953.4,342.8 953.7,336.2 954.0,330.3 954.3,336.9 954.6,330.5 955.0,330.0 956.0,340.0 957.0,325.0 958.0,345.0 959.0,330.0 960.0,340.0 960.6,322.0 961.2,335.0 961.8,312.0 962.3,300.0 962.8,320.0 963.3,305.0 963.8,318.0 964.3,296.0 964.8,305.0 965.3,290.0 965.8,300.0 966.3,284.0 966.8,292.0 967.3,279.5 967.8,285.0 968.3,276.0 968.9,270.0 969.4,282.0 969.9,276.0 970.4,288.0 971.0,295.0 971.6,302.0 972.3,310.0 973.0,318.0 973.7,325.0 974.4,338.0 975.1,346.0 975.8,352.0 976.5,352.6 977.2,340.0 977.8,330.4 978.5,345.0 979.2,349.0 979.8,300.0 980.3,18.7 980.8,200.0 981.2,356.0 981.8,357.7 982.1,356.0 982.4,354.0 982.7,355.8 983.0,357.7 983.3,356.4 983.6,357.5 983.9,357.1 984.2,357.2 984.5,357.0 984.8,356.9 985.1,356.5 985.4,356.9 985.7,356.2 986.0,356.9 986.3,356.7 986.6,356.1 986.9,356.3 987.2,357.3 987.5,356.9 987.8,357.8 988.1,356.6 988.4,356.6 988.7,357.6 989.0,357.4 989.3,356.7 989.6,356.4 989.9,357.4 990.2,356.2 990.5,357.5 990.8,357.3 991.1,357.3 991.4,355.8 991.7,355.8 992.0,356.9 992.3,357.9 992.6,356.2 992.9,355.9 993.2,357.4 993.5,353.5 993.8,353.5 994.1,357.8 994.4,357.7 994.7,356.7 995.0,357.9 995.3,356.1 995.6,357.8 995.9,356.5 996.2,357.7 996.5,356.1 996.8,353.5 997.1,353.5 997.4,356.6 997.7,354.0 998.0,356.6 998.3,355.7" fill="none" stroke="#14147F" stroke-width="1" stroke-linejoin="miter" stroke-miterlimit="20"/><g stroke="#858585" stroke-width="1.15" fill="none"><line x1="25.85" y1="40" x2="25.85" y2="361.9" stroke="#8a8a8a" stroke-width="1.3"/><line x1="25.3" y1="361.4" x2="500.6" y2="361.4" stroke="#6e6e6e"/><line x1="22.3" y1="361.0" x2="25.9" y2="361.0"/><line x1="23.6" y1="320.4" x2="25.9" y2="320.4"/><line x1="22.3" y1="279.7" x2="25.9" y2="279.7"/><line x1="23.6" y1="239.1" x2="25.9" y2="239.1"/><line x1="22.3" y1="198.4" x2="25.9" y2="198.4"/><line x1="23.6" y1="157.8" x2="25.9" y2="157.8"/><line x1="22.3" y1="117.1" x2="25.9" y2="117.1"/><line x1="23.6" y1="76.4" x2="25.9" y2="76.4"/><line x1="32.2" y1="361.4" x2="32.2" y2="364.6" stroke="#6e6e6e"/><line x1="43.1" y1="361.4" x2="43.1" y2="364.6" stroke="#6e6e6e"/><line x1="53.9" y1="361.4" x2="53.9" y2="364.6" stroke="#6e6e6e"/><line x1="64.7" y1="361.4" x2="64.7" y2="364.6" stroke="#6e6e6e"/><line x1="75.6" y1="361.4" x2="75.6" y2="364.6" stroke="#6e6e6e"/><line x1="86.4" y1="361.4" x2="86.4" y2="364.6" stroke="#6e6e6e"/><line x1="97.3" y1="361.4" x2="97.3" y2="364.6" stroke="#6e6e6e"/><line x1="108.1" y1="361.4" x2="108.1" y2="364.6" stroke="#6e6e6e"/><line x1="119.0" y1="361.4" x2="119.0" y2="364.6" stroke="#6e6e6e"/><line x1="129.8" y1="361.4" x2="129.8" y2="364.6" stroke="#6e6e6e"/><line x1="140.6" y1="361.4" x2="140.6" y2="364.6" stroke="#6e6e6e"/><line x1="151.5" y1="361.4" x2="151.5" y2="364.6" stroke="#6e6e6e"/><line x1="162.3" y1="361.4" x2="162.3" y2="364.6" stroke="#6e6e6e"/><line x1="173.2" y1="361.4" x2="173.2" y2="364.6" stroke="#6e6e6e"/><line x1="184.0" y1="361.4" x2="184.0" y2="364.6" stroke="#6e6e6e"/><line x1="194.9" y1="361.4" x2="194.9" y2="364.6" stroke="#6e6e6e"/><line x1="205.7" y1="361.4" x2="205.7" y2="364.6" stroke="#6e6e6e"/><line x1="216.5" y1="361.4" x2="216.5" y2="364.6" stroke="#6e6e6e"/><line x1="227.4" y1="361.4" x2="227.4" y2="364.6" stroke="#6e6e6e"/><line x1="238.2" y1="361.4" x2="238.2" y2="364.6" stroke="#6e6e6e"/><line x1="249.1" y1="361.4" x2="249.1" y2="364.6" stroke="#6e6e6e"/><line x1="259.9" y1="361.4" x2="259.9" y2="364.6" stroke="#6e6e6e"/><line x1="270.8" y1="361.4" x2="270.8" y2="364.6" stroke="#6e6e6e"/><line x1="281.6" y1="361.4" x2="281.6" y2="364.6" stroke="#6e6e6e"/><line x1="292.4" y1="361.4" x2="292.4" y2="364.6" stroke="#6e6e6e"/><line x1="303.3" y1="361.4" x2="303.3" y2="364.6" stroke="#6e6e6e"/><line x1="314.1" y1="361.4" x2="314.1" y2="364.6" stroke="#6e6e6e"/><line x1="325.0" y1="361.4" x2="325.0" y2="364.6" stroke="#6e6e6e"/><line x1="335.8" y1="361.4" x2="335.8" y2="364.6" stroke="#6e6e6e"/><line x1="346.6" y1="361.4" x2="346.6" y2="364.6" stroke="#6e6e6e"/><line x1="357.5" y1="361.4" x2="357.5" y2="364.6" stroke="#6e6e6e"/><line x1="368.3" y1="361.4" x2="368.3" y2="364.6" stroke="#6e6e6e"/><line x1="379.2" y1="361.4" x2="379.2" y2="364.6" stroke="#6e6e6e"/><line x1="390.0" y1="361.4" x2="390.0" y2="364.6" stroke="#6e6e6e"/><line x1="400.9" y1="361.4" x2="400.9" y2="364.6" stroke="#6e6e6e"/><line x1="411.7" y1="361.4" x2="411.7" y2="364.6" stroke="#6e6e6e"/><line x1="422.5" y1="361.4" x2="422.5" y2="364.6" stroke="#6e6e6e"/><line x1="433.4" y1="361.4" x2="433.4" y2="364.6" stroke="#6e6e6e"/><line x1="444.2" y1="361.4" x2="444.2" y2="364.6" stroke="#6e6e6e"/><line x1="455.1" y1="361.4" x2="455.1" y2="364.6" stroke="#6e6e6e"/><line x1="465.9" y1="361.4" x2="465.9" y2="364.6" stroke="#6e6e6e"/><line x1="476.8" y1="361.4" x2="476.8" y2="364.6" stroke="#6e6e6e"/><line x1="487.6" y1="361.4" x2="487.6" y2="364.6" stroke="#6e6e6e"/><line x1="498.4" y1="361.4" x2="498.4" y2="364.6" stroke="#6e6e6e"/><line x1="524.5" y1="1.6" x2="524.5" y2="362.9" stroke="#606060" stroke-width="1.2"/><line x1="524" y1="362.3" x2="998.2" y2="362.3" stroke="#606060" stroke-width="1.2"/><line x1="521.4" y1="359.6" x2="524.5" y2="359.6" stroke="#606060"/><line x1="521.8" y1="346.5" x2="524.5" y2="346.5" stroke="#606060"/><line x1="521.8" y1="333.4" x2="524.5" y2="333.4" stroke="#606060"/><line x1="521.8" y1="320.4" x2="524.5" y2="320.4" stroke="#606060"/><line x1="521.8" y1="307.3" x2="524.5" y2="307.3" stroke="#606060"/><line x1="521.4" y1="294.2" x2="524.5" y2="294.2" stroke="#606060"/><line x1="521.8" y1="281.1" x2="524.5" y2="281.1" stroke="#606060"/><line x1="521.8" y1="268.0" x2="524.5" y2="268.0" stroke="#606060"/><line x1="521.8" y1="255.0" x2="524.5" y2="255.0" stroke="#606060"/><line x1="521.8" y1="241.9" x2="524.5" y2="241.9" stroke="#606060"/><line x1="521.4" y1="228.8" x2="524.5" y2="228.8" stroke="#606060"/><line x1="521.8" y1="215.7" x2="524.5" y2="215.7" stroke="#606060"/><line x1="521.8" y1="202.6" x2="524.5" y2="202.6" stroke="#606060"/><line x1="521.8" y1="189.6" x2="524.5" y2="189.6" stroke="#606060"/><line x1="521.8" y1="176.5" x2="524.5" y2="176.5" stroke="#606060"/><line x1="521.4" y1="163.4" x2="524.5" y2="163.4" stroke="#606060"/><line x1="521.8" y1="150.3" x2="524.5" y2="150.3" stroke="#606060"/><line x1="521.8" y1="137.2" x2="524.5" y2="137.2" stroke="#606060"/><line x1="521.8" y1="124.2" x2="524.5" y2="124.2" stroke="#606060"/><line x1="521.8" y1="111.1" x2="524.5" y2="111.1" stroke="#606060"/><line x1="521.4" y1="98.0" x2="524.5" y2="98.0" stroke="#606060"/><line x1="521.8" y1="84.9" x2="524.5" y2="84.9" stroke="#606060"/><line x1="521.8" y1="71.8" x2="524.5" y2="71.8" stroke="#606060"/><line x1="521.8" y1="58.8" x2="524.5" y2="58.8" stroke="#606060"/><line x1="521.8" y1="45.7" x2="524.5" y2="45.7" stroke="#606060"/><line x1="521.4" y1="32.6" x2="524.5" y2="32.6" stroke="#606060"/><line x1="521.8" y1="19.5" x2="524.5" y2="19.5" stroke="#606060"/><line x1="521.8" y1="6.4" x2="524.5" y2="6.4" stroke="#606060"/><line x1="535.4" y1="362.3" x2="535.4" y2="366.6" stroke="#606060"/><line x1="552.4" y1="362.3" x2="552.4" y2="366.6" stroke="#606060"/><line x1="569.5" y1="362.3" x2="569.5" y2="366.6" stroke="#606060"/><line x1="586.6" y1="362.3" x2="586.6" y2="366.6" stroke="#606060"/><line x1="603.7" y1="362.3" x2="603.7" y2="366.6" stroke="#606060"/><line x1="620.8" y1="362.3" x2="620.8" y2="366.6" stroke="#606060"/><line x1="637.9" y1="362.3" x2="637.9" y2="366.6" stroke="#606060"/><line x1="655.0" y1="362.3" x2="655.0" y2="366.6" stroke="#606060"/><line x1="672.0" y1="362.3" x2="672.0" y2="366.6" stroke="#606060"/><line x1="689.1" y1="362.3" x2="689.1" y2="366.6" stroke="#606060"/><line x1="706.2" y1="362.3" x2="706.2" y2="366.6" stroke="#606060"/><line x1="723.3" y1="362.3" x2="723.3" y2="366.6" stroke="#606060"/><line x1="740.4" y1="362.3" x2="740.4" y2="366.6" stroke="#606060"/><line x1="757.5" y1="362.3" x2="757.5" y2="366.6" stroke="#606060"/><line x1="774.6" y1="362.3" x2="774.6" y2="366.6" stroke="#606060"/><line x1="791.6" y1="362.3" x2="791.6" y2="366.6" stroke="#606060"/><line x1="808.7" y1="362.3" x2="808.7" y2="366.6" stroke="#606060"/><line x1="825.8" y1="362.3" x2="825.8" y2="366.6" stroke="#606060"/><line x1="842.9" y1="362.3" x2="842.9" y2="366.6" stroke="#606060"/><line x1="860.0" y1="362.3" x2="860.0" y2="366.6" stroke="#606060"/><line x1="877.1" y1="362.3" x2="877.1" y2="366.6" stroke="#606060"/><line x1="894.1" y1="362.3" x2="894.1" y2="366.6" stroke="#606060"/><line x1="911.2" y1="362.3" x2="911.2" y2="366.6" stroke="#606060"/><line x1="928.3" y1="362.3" x2="928.3" y2="366.6" stroke="#606060"/><line x1="945.4" y1="362.3" x2="945.4" y2="366.6" stroke="#606060"/><line x1="962.5" y1="362.3" x2="962.5" y2="366.6" stroke="#606060"/><line x1="979.6" y1="362.3" x2="979.6" y2="366.6" stroke="#606060"/><line x1="996.7" y1="362.3" x2="996.7" y2="366.6" stroke="#606060"/></g><g font-family="Liberation Sans, sans-serif" font-size="8" fill="#222" stroke="#222" stroke-width="0.4"><text transform="translate(20.40,363.90) scale(1,1.12)" text-anchor="end">0</text><text transform="translate(20.40,282.60) scale(1,1.12)" text-anchor="end">2000</text><text transform="translate(20.40,201.30) scale(1,1.12)" text-anchor="end">4000</text><text transform="translate(20.40,120.00) scale(1,1.12)" text-anchor="end">6000</text><text transform="translate(53.90,372.80) scale(1,1.12)" text-anchor="middle">250</text><text transform="translate(108.11,372.80) scale(1,1.12)" text-anchor="middle">500</text><text transform="translate(162.32,372.80) scale(1,1.12)" text-anchor="middle">750</text><text transform="translate(216.54,372.80) scale(1,1.12)" text-anchor="middle">1000</text><text transform="translate(270.75,372.80) scale(1,1.12)" text-anchor="middle">1250</text><text transform="translate(324.96,372.80) scale(1,1.12)" text-anchor="middle">1500</text><text transform="translate(379.17,372.80) scale(1,1.12)" text-anchor="middle">1750</text><text transform="translate(433.39,372.80) scale(1,1.12)" text-anchor="middle">2000</text><text transform="translate(487.60,372.80) scale(1,1.12)" text-anchor="middle">2250</text><text transform="translate(519.00,362.50) scale(1,1.12)" text-anchor="end">0</text><text transform="translate(519.00,297.10) scale(1,1.12)" text-anchor="end">500</text><text transform="translate(519.00,231.70) scale(1,1.12)" text-anchor="end">1000</text><text transform="translate(519.00,166.30) scale(1,1.12)" text-anchor="end">1500</text><text transform="translate(519.00,100.90) scale(1,1.12)" text-anchor="end">2000</text><text transform="translate(519.00,35.50) scale(1,1.12)" text-anchor="end">2500</text><text transform="translate(603.70,374.60) scale(1,1.12)" text-anchor="middle">500</text><text transform="translate(689.12,374.60) scale(1,1.12)" text-anchor="middle">1000</text><text transform="translate(774.55,374.60) scale(1,1.12)" text-anchor="middle">1500</text><text transform="translate(859.98,374.60) scale(1,1.12)" text-anchor="middle">2000</text><text transform="translate(945.40,374.60) scale(1,1.12)" text-anchor="middle">2500</text><line x1="45.9" y1="125.0" x2="45.9" y2="336.0" stroke="#5c5c5c" stroke-width="1.2" stroke-opacity="0.9"/><line x1="30.6" y1="125.2" x2="61.0" y2="125.2" stroke="#5e5e5e" stroke-width="1.15"/><text transform="translate(45.90,123.00) scale(1,1.15)" text-anchor="middle">213.060</text><line x1="65.6" y1="334.3" x2="65.6" y2="338.6" stroke="#5c5c5c" stroke-width="1.2" stroke-opacity="0.9"/><line x1="50.3" y1="334.5" x2="80.7" y2="334.5" stroke="#5e5e5e" stroke-width="1.15"/><text transform="translate(65.60,332.30) scale(1,1.15)" text-anchor="middle">303.916</text><line x1="81.0" y1="321.9" x2="81.0" y2="326.6" stroke="#5c5c5c" stroke-width="1.2" stroke-opacity="0.9"/><line x1="65.7" y1="322.1" x2="96.1" y2="322.1" stroke="#5e5e5e" stroke-width="1.15"/><text transform="translate(81.00,319.90) scale(1,1.15)" text-anchor="middle">374.870</text><line x1="105.5" y1="297.2" x2="105.5" y2="312.8" stroke="#5c5c5c" stroke-width="1.2" stroke-opacity="0.9"/><line x1="90.2" y1="297.4" x2="120.6" y2="297.4" stroke="#5e5e5e" stroke-width="1.15"/><text transform="translate(105.50,295.20) scale(1,1.15)" text-anchor="middle">487.823</text><line x1="126.9" y1="93.9" x2="126.9" y2="114.0" stroke="#5c5c5c" stroke-width="1.2" stroke-opacity="0.9"/><line x1="111.6" y1="94.1" x2="142.0" y2="94.1" stroke="#5e5e5e" stroke-width="1.15"/><text transform="translate(126.90,91.90) scale(1,1.15)" text-anchor="middle">586.813</text><line x1="151.9" y1="145.5" x2="151.9" y2="156.9" stroke="#5c5c5c" stroke-width="1.2" stroke-opacity="0.9"/><line x1="136.6" y1="145.7" x2="167.0" y2="145.7" stroke="#5e5e5e" stroke-width="1.15"/><text transform="translate(151.90,143.50) scale(1,1.15)" text-anchor="middle">701.770</text><line x1="176.8" y1="325.2" x2="176.8" y2="331.0" stroke="#5c5c5c" stroke-width="1.2" stroke-opacity="0.9"/><line x1="161.5" y1="325.4" x2="191.9" y2="325.4" stroke="#5e5e5e" stroke-width="1.15"/><text transform="translate(176.80,323.20) scale(1,1.15)" text-anchor="middle">816.712</text><line x1="192.2" y1="276.2" x2="192.2" y2="279.0" stroke="#5c5c5c" stroke-width="1.2" stroke-opacity="0.9"/><line x1="176.9" y1="276.4" x2="207.3" y2="276.4" stroke="#5e5e5e" stroke-width="1.15"/><text transform="translate(192.20,274.20) scale(1,1.15)" text-anchor="middle">887.722</text><line x1="214.6" y1="336.4" x2="214.6" y2="342.3" stroke="#5c5c5c" stroke-width="1.2" stroke-opacity="0.9"/><line x1="199.3" y1="336.6" x2="229.7" y2="336.6" stroke="#5e5e5e" stroke-width="1.15"/><text transform="translate(214.60,334.40) scale(1,1.15)" text-anchor="middle">990.836</text><line x1="241.2" y1="294.1" x2="241.2" y2="304.2" stroke="#5c5c5c" stroke-width="1.2" stroke-opacity="0.9"/><line x1="223.7" y1="294.3" x2="258.5" y2="294.3" stroke="#5e5e5e" stroke-width="1.15"/><text transform="translate(241.20,292.10) scale(1,1.15)" text-anchor="middle">1113.802</text><line x1="276.6" y1="326.8" x2="276.6" y2="331.2" stroke="#5c5c5c" stroke-width="1.2" stroke-opacity="0.9"/><line x1="259.1" y1="327.0" x2="293.9" y2="327.0" stroke="#5e5e5e" stroke-width="1.15"/><text transform="translate(276.60,324.80) scale(1,1.15)" text-anchor="middle">1276.817</text><line x1="331.9" y1="188.6" x2="331.9" y2="209.1" stroke="#5c5c5c" stroke-width="1.2" stroke-opacity="0.9"/><line x1="314.4" y1="188.8" x2="349.2" y2="188.8" stroke="#5e5e5e" stroke-width="1.15"/><text transform="translate(331.90,186.60) scale(1,1.15)" text-anchor="middle">1532.084</text><line x1="384.5" y1="329.6" x2="384.5" y2="335.9" stroke="#5c5c5c" stroke-width="1.2" stroke-opacity="0.9"/><line x1="367.0" y1="329.8" x2="401.8" y2="329.8" stroke="#5e5e5e" stroke-width="1.15"/><text transform="translate(384.50,327.60) scale(1,1.15)" text-anchor="middle">1774.428</text><line x1="463.9" y1="261.9" x2="463.9" y2="334.0" stroke="#5c5c5c" stroke-width="1.2" stroke-opacity="0.9"/><line x1="446.4" y1="262.1" x2="481.2" y2="262.1" stroke="#5e5e5e" stroke-width="1.15"/><text transform="translate(463.90,259.90) scale(1,1.15)" text-anchor="middle">2140.564</text><line x1="483.1" y1="48.6" x2="483.1" y2="132.7" stroke="#5c5c5c" stroke-width="1.2" stroke-opacity="0.9"/><line x1="465.6" y1="48.8" x2="500.4" y2="48.8" stroke="#5e5e5e" stroke-width="1.15"/><text transform="translate(483.10,46.60) scale(1,1.15)" text-anchor="middle">2229.321</text><line x1="548.2" y1="120.9" x2="548.2" y2="124.3" stroke="#5c5c5c" stroke-width="1.2" stroke-opacity="0.9"/><line x1="532.9" y1="121.1" x2="563.3" y2="121.1" stroke="#5e5e5e" stroke-width="1.15"/><text transform="translate(548.20,118.90) scale(1,1.15)" text-anchor="middle">174.903</text><line x1="567.4" y1="300.6" x2="567.4" y2="304.5" stroke="#5c5c5c" stroke-width="1.2" stroke-opacity="0.9"/><line x1="552.1" y1="300.8" x2="582.5" y2="300.8" stroke="#5e5e5e" stroke-width="1.15"/><text transform="translate(567.40,298.60) scale(1,1.15)" text-anchor="middle">287.810</text><line x1="592.2" y1="263.7" x2="592.2" y2="269.2" stroke="#5c5c5c" stroke-width="1.2" stroke-opacity="0.9"/><line x1="576.9" y1="263.9" x2="607.3" y2="263.9" stroke="#5e5e5e" stroke-width="1.15"/><text transform="translate(592.20,261.70) scale(1,1.15)" text-anchor="middle">432.562</text><line x1="695.5" y1="282.3" x2="695.5" y2="285.0" stroke="#5c5c5c" stroke-width="1.2" stroke-opacity="0.9"/><line x1="678.0" y1="282.5" x2="712.8" y2="282.5" stroke="#5e5e5e" stroke-width="1.15"/><text transform="translate(695.50,280.30) scale(1,1.15)" text-anchor="middle">1037.322</text><line x1="980.5" y1="11.9" x2="980.5" y2="19.0" stroke="#5c5c5c" stroke-width="1.2" stroke-opacity="0.9"/><line x1="963.0" y1="12.1" x2="997.8" y2="12.1" stroke="#5e5e5e" stroke-width="1.15"/><text transform="translate(980.50,9.90) scale(1,1.15)" text-anchor="middle">2705.361</text><text transform="translate(627.00,274.80) scale(1,1.18)" text-anchor="middle">636.448</text><text transform="translate(646.50,255.90) scale(1,1.18)" text-anchor="middle">750.389</text></g><text x="3" y="16.8" font-family="Liberation Sans, sans-serif" font-weight="bold" font-size="20" fill="#000">A</text><text x="477.9" y="16.8" font-family="Liberation Sans, sans-serif" font-weight="bold" font-size="20" fill="#000">B</text><text transform="translate(35.5,38.5) scale(1,0.96)" font-family="Liberation Serif, serif" font-weight="bold" font-size="18.7" fill="#ff0000">Pus (No 2884)</text><text transform="translate(535.2,35.1) scale(1,0.96)" font-family="Liberation Serif, serif" font-weight="bold" font-size="18.7" fill="#ff0000">Urine (No 10894)</text></svg></body></html>
